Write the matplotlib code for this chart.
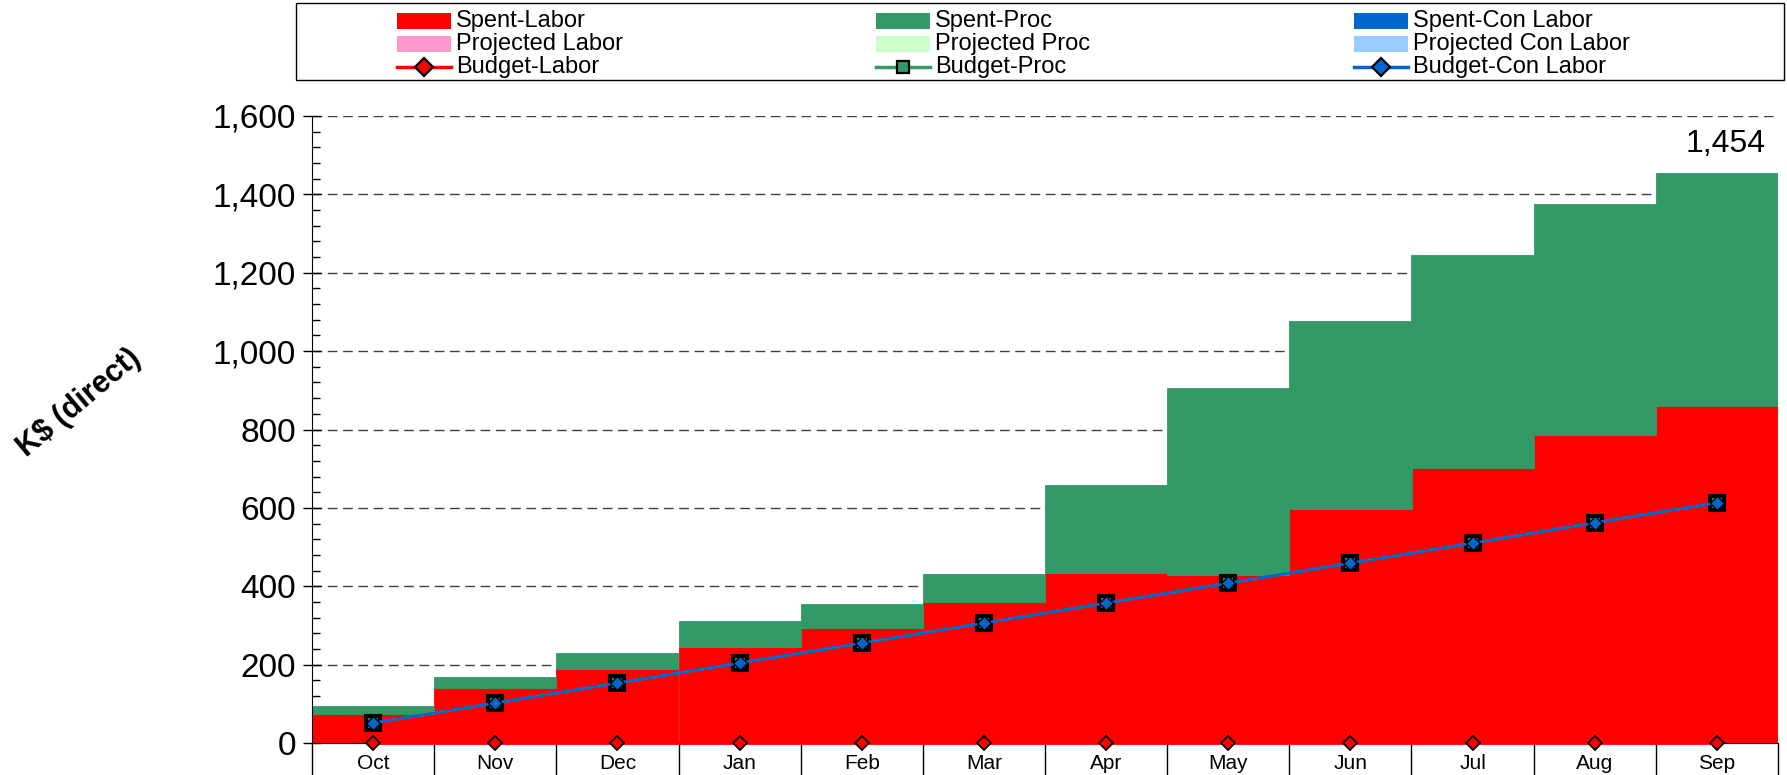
import numpy as np
import matplotlib
matplotlib.use("Agg")
import matplotlib.pyplot as plt
from matplotlib.patches import Rectangle
from matplotlib.lines import Line2D
from matplotlib.ticker import MultipleLocator, FuncFormatter

plt.rcParams['font.family'] = ['Liberation Sans', 'DejaVu Sans']

# =========================================================
# DADOS
# =========================================================
meses = ["Oct", "Nov", "Dec", "Jan", "Feb", "Mar", "Apr", "May", "Jun", "Jul", "Aug", "Sep"]

gasto_labor = [73, 140, 188, 245, 294, 360, 433, 428, 598, 702, 787, 860]
gasto_proc = [21, 28, 42, 66, 61, 72, 225, 478, 479, 544, 588, 594]
gasto_con_labor = [0, 0, 0, 0, 0, 0, 0, 0, 0, 0, 0, 0]

proj_labor = [0, 0, 0, 0, 0, 0, 0, 0, 0, 0, 0, 0]
proj_proc = [0, 0, 0, 0, 0, 0, 0, 0, 0, 0, 0, 0]
proj_con_labor = [0, 0, 0, 0, 0, 0, 0, 0, 0, 0, 0, 0]

budget_labor = [0, 0, 0, 0, 0, 0, 0, 0, 0, 0, 0, 0]
budget_proc = [51, 102, 153, 204, 255, 306, 357, 408, 459, 510, 562, 613]
budget_con_labor = [51, 102, 153, 204, 255, 306, 357, 408, 459, 510, 562, 613]

# cores
cor_labor = "#FF0000"
cor_proc = "#339966"
cor_con = "#0066CC"
cor_proj_labor = "#FF99CC"
cor_proj_proc = "#CCFFCC"
cor_proj_con = "#99CCFF"

# =========================================================
# FIGURA
# =========================================================
W, H = 1787, 775
fig = plt.figure(figsize=(W / 100, H / 100), dpi=100)
ax = fig.add_axes([312 / W, 1 - 743 / H, (1778 - 312) / W, (743 - 116) / H])

x = np.arange(len(meses))
base = np.zeros(len(meses))
for vals, cor in [(gasto_labor, cor_labor), (gasto_proc, cor_proc), (gasto_con_labor, cor_con),
                  (proj_labor, cor_proj_labor), (proj_proc, cor_proj_proc), (proj_con_labor, cor_proj_con)]:
    vals = np.array(vals)
    ax.bar(x, vals, width=1.0, bottom=base, color=cor, edgecolor=cor,
           linewidth=np.where(vals > 0, 0.6, 0), zorder=2)
    base = base + vals

# linhas de budget
ax.plot(x, budget_labor, color=cor_labor, lw=2, marker='D', ms=7.5, mfc=cor_labor,
        mec='black', mew=1.3, zorder=4, clip_on=False)
ax.plot(x, budget_proc, color=cor_proc, lw=2, marker='s', ms=9.5, mfc=cor_proc,
        mec='black', mew=3, zorder=5)
ax.plot(x, budget_con_labor, color=cor_con, lw=2, marker='D', ms=7.5, mfc=cor_con,
        mec='black', mew=1, zorder=6)

# total no ultimo mes
total_final = gasto_labor[-1] + gasto_proc[-1]
ax.annotate(f"{total_final:,}", xy=(x[-1], total_final), xytext=(6, 10),
            textcoords='offset points', ha='center', va='bottom', fontsize=23)

# eixos
ax.set_xlim(-0.5, len(meses) - 0.5)
ax.set_ylim(0, 1600)
ax.yaxis.set_major_locator(MultipleLocator(200))
ax.yaxis.set_minor_locator(MultipleLocator(40))
ax.yaxis.set_major_formatter(FuncFormatter(lambda v, p: f"{v:,.0f}"))
ax.tick_params(axis='y', which='major', direction='inout', length=13, width=1,
               labelsize=24, pad=5)
ax.tick_params(axis='y', which='minor', direction='in', length=6, width=1)

ax.set_xticks(x)
ax.set_xticklabels(meses)
ax.set_xticks(np.arange(-0.5, len(meses)), minor=True)
ax.tick_params(axis='x', which='major', length=0, labelsize=15, pad=8)
ax.tick_params(axis='x', which='minor', direction='out', length=25, width=1)

ax.grid(axis='y', which='major', linestyle=(0, (7, 4)), color='#404040', lw=1, zorder=0)
ax.set_axisbelow(True)
ax.spines['top'].set_visible(False)
ax.spines['right'].set_visible(False)

fig.text(79 / W, 1 - 403 / H, "K$ (direct)", rotation=40, ha='center', va='center',
         fontsize=22, fontweight='bold', rotation_mode='anchor')

# =========================================================
# LEGENDA
# =========================================================
fig.add_artist(Rectangle((296 / W, 1 - 80 / H), (1784 - 296) / W, 77 / H, fill=False,
                         ec='black', lw=1, transform=fig.transFigure))

legenda = [
    [("Spent-Labor", "patch", cor_labor, None),
     ("Projected Labor", "patch", cor_proj_labor, None),
     ("Budget-Labor", "line", cor_labor, 'D')],
    [("Spent-Proc", "patch", cor_proc, None),
     ("Projected Proc", "patch", cor_proj_proc, None),
     ("Budget-Proc", "line", cor_proc, 's')],
    [("Spent-Con Labor", "patch", cor_con, None),
     ("Projected Con Labor", "patch", cor_proj_con, None),
     ("Budget-Con Labor", "line", cor_con, 'D')],
]
col_x = [397, 876, 1354]
row_y = [21, 44, 67]
for ci, coluna in enumerate(legenda):
    for ri, (texto, tipo, cor, mk) in enumerate(coluna):
        x0 = col_x[ci]
        yc = row_y[ri]
        if tipo == "patch":
            fig.add_artist(Rectangle((x0 / W, 1 - (yc + 7.5) / H), 54 / W, 15 / H,
                                     color=cor, lw=0, transform=fig.transFigure))
        else:
            fig.add_artist(Line2D([x0 / W, (x0 + 54) / W], [1 - yc / H, 1 - yc / H],
                                  color=cor, lw=2.5, transform=fig.transFigure))
            fig.add_artist(Line2D([(x0 + 27) / W], [1 - yc / H], marker=mk, ms=9,
                                  mfc=cor, mec='black', mew=1.6, ls='none',
                                  transform=fig.transFigure))
        fig.text((x0 + 59) / W, 1 - yc / H, texto, ha='left', va='center', fontsize=17)

fig.savefig("out.png", dpi=100)
